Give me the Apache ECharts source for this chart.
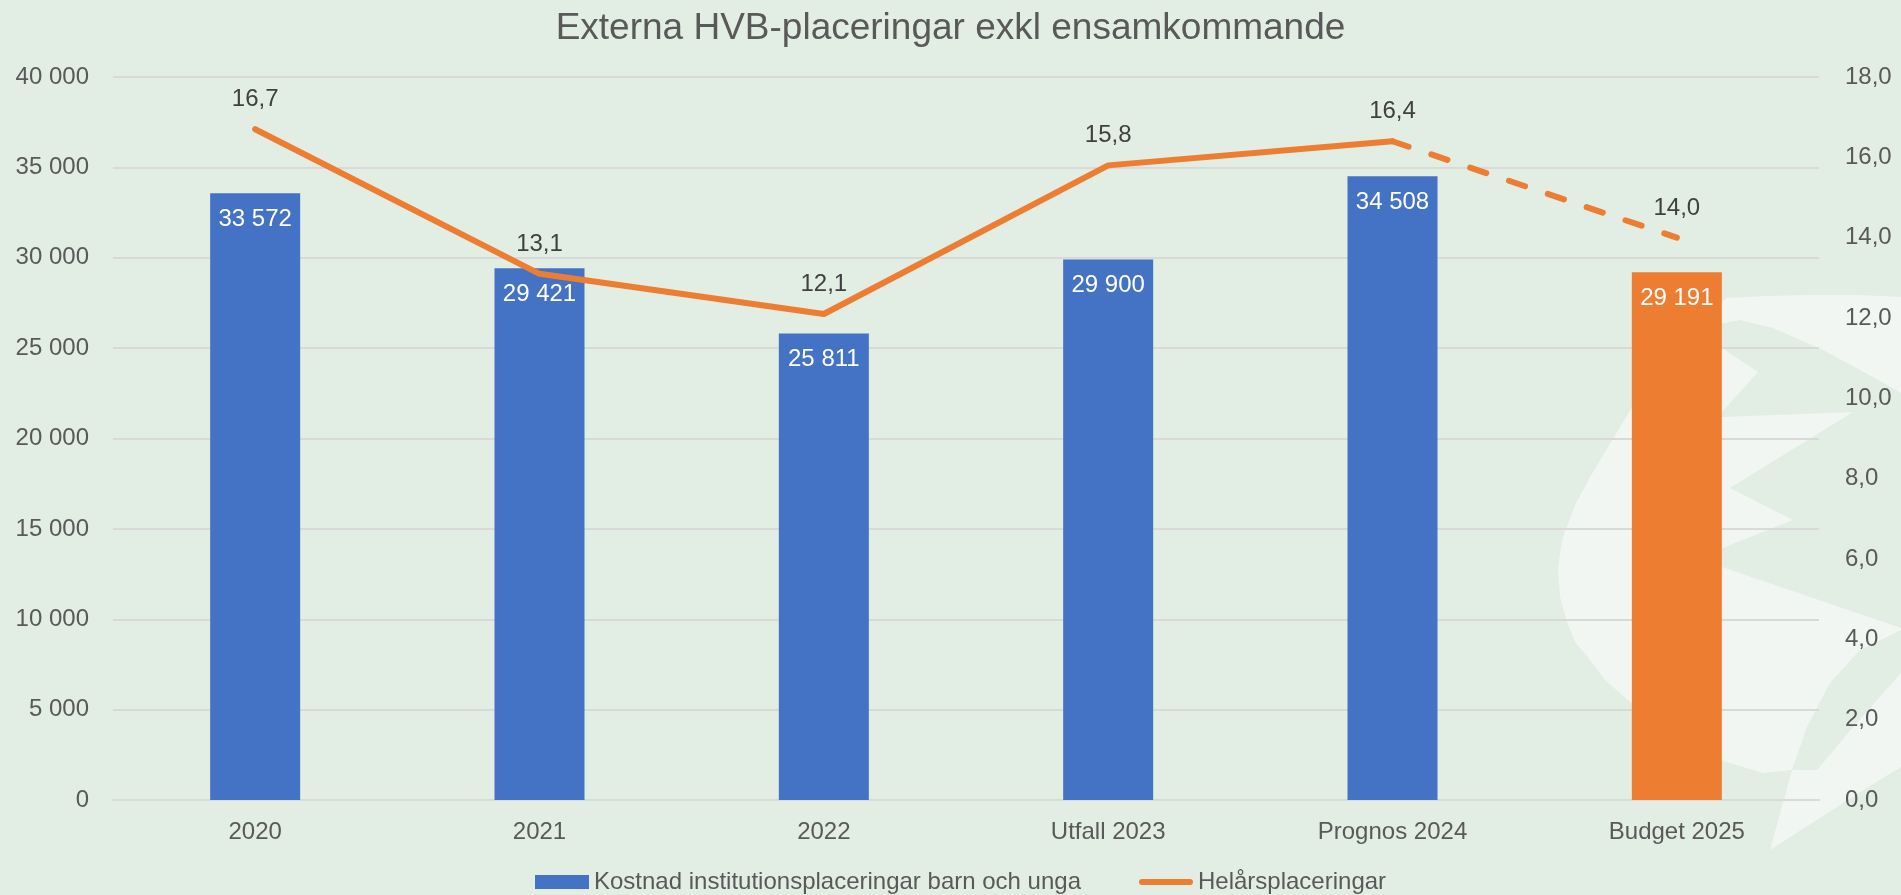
<!DOCTYPE html>
<html>
<head>
<meta charset="utf-8">
<script src="https://cdn.jsdelivr.net/npm/echarts@6/dist/echarts.min.js"></script>
<style>
html,body{margin:0;padding:0;background:#E2EDE3;}
#chart{width:1901px;height:895px;}
</style>
</head>
<body>
<div id="chart"></div>
<script>
const title = 'Externa HVB-placeringar exkl ensamkommande';
const categories = ['2020', '2021', '2022', 'Utfall 2023', 'Prognos 2024', 'Budget 2025'];
const costName = 'Kostnad institutionsplaceringar barn och unga';
const costValues = [33572, 29421, 25811, 29900, 34508, 29191];
const placementName = 'Helårsplaceringar';
const placementValues = [16.7, 13.1, 12.1, 15.8, 16.4, 14.0];
const solidUntil = 4; // last index of the solid part; dashed after

const BLUE = '#4472C4', ORANGE = '#ED7D31';
const FONT = '"Liberation Sans", Arial, sans-serif';

const fmtThousands = v => String(Math.round(v)).replace(/\B(?=(\d{3})+(?!\d))/g, ' ');
const fmtDec = v => Number(v).toFixed(1).replace('.', ',');

const barData = costValues.map((v, i) => ({
  value: v,
  itemStyle: { color: i === costValues.length - 1 ? ORANGE : BLUE }
}));
const solidLine = placementValues.map((v, i) => i <= solidUntil ? v : null);
const dashedLine = placementValues.map((v, i) => i >= solidUntil ? v : null);

// decorative watermark (background logo shape)
const lightFill = '#F1F6F2';
const bgFill = '#E2EDE3';
function poly(points, fill) {
  return { type: 'polygon', z: -10, silent: true, shape: { points: points }, style: { fill: fill } };
}
const watermark = [
  poly([[1727,298],[1767,296],[1807,295],[1860,295],[1901,297],[1901,767],[1870,786],[1837,807],[1770,850],[1781,810],[1792,770],[1763,773],[1720,760],[1675,735],[1630,702],[1605,680],[1590,660],[1575,642],[1567,622],[1560,597],[1558,570],[1560,553],[1563,537],[1575,505],[1590,477],[1605,452],[1620,427],[1650,377],[1680,337],[1703,313]], lightFill),
  poly([[1700,328],[1740,320],[1773,328],[1823,350],[1873,377],[1901,393],[1901,628],[1722,567],[1700,561],[1700,557],[1793,520],[1730,488],[1853,412],[1722,417],[1700,418],[1700,413],[1722,412],[1758,372],[1722,348],[1700,338]], bgFill),
  poly([[1901,630],[1860,650],[1830,683],[1807,727],[1792,770],[1817,770],[1853,727],[1901,673]], bgFill)
];

const chart = echarts.init(document.getElementById('chart'));
chart.setOption({
  backgroundColor: '#E2EDE3',
  animation: false,
  textStyle: { fontFamily: FONT },
  graphic: watermark,
  title: {
    text: title,
    left: 'center',
    top: 4,
    textStyle: { fontFamily: FONT, fontSize: 37, fontWeight: 'normal', color: '#595959', lineHeight: 40 }
  },
  legend: {
    top: 870,
    left: 535,
    padding: 0,
    itemWidth: 54,
    itemHeight: 14,
    itemGap: 58,
    textStyle: { fontFamily: FONT, fontSize: 24, color: '#595959' },
    data: [
      { name: costName, icon: 'rect', itemStyle: { color: BLUE } },
      { name: placementName,
        icon: 'path://M0,0L0,0M0,14L0,14M3,4L51,4A3,3 0 0 1 51,10L3,10A3,3 0 0 1 3,4Z',
        itemStyle: { color: ORANGE } }
    ]
  },
  grid: { left: 113, right: 82, top: 77, bottom: 95, containLabel: false },
  xAxis: {
    type: 'category',
    data: categories,
    axisTick: { show: false },
    axisLine: { lineStyle: { color: '#D9D9D9', width: 2 } },
    axisLabel: { fontFamily: FONT, fontSize: 24, color: '#595959', margin: 20 }
  },
  yAxis: [
    {
      type: 'value', min: 0, max: 40000, interval: 5000,
      axisLine: { show: false }, axisTick: { show: false },
      splitLine: { lineStyle: { color: '#D9D9D9', width: 2 } },
      axisLabel: { fontFamily: FONT, fontSize: 24, color: '#595959', margin: 24, formatter: fmtThousands }
    },
    {
      type: 'value', min: 0, max: 18, interval: 2,
      axisLine: { show: false }, axisTick: { show: false },
      splitLine: { show: false },
      axisLabel: { fontFamily: FONT, fontSize: 24, color: '#595959', margin: 26, formatter: v => fmtDec(v) }
    }
  ],
  series: [
    {
      name: costName,
      type: 'bar',
      yAxisIndex: 0,
      barWidth: 90,
      data: barData,
      itemStyle: { color: BLUE },
      label: {
        show: true, position: 'insideTop', distance: 14,
        fontFamily: FONT, fontSize: 24, color: '#FFFFFF',
        formatter: p => fmtThousands(p.value)
      },
      z: 2
    },
    {
      name: placementName,
      type: 'line',
      yAxisIndex: 1,
      data: solidLine,
      symbol: 'circle',
      symbolSize: 1,
      showSymbol: true,
      itemStyle: { color: 'rgba(0,0,0,0)' },
      lineStyle: { color: ORANGE, width: 6, cap: 'round', join: 'round' },
      label: {
        show: true, position: 'top', distance: 17,
        fontFamily: FONT, fontSize: 24, color: '#404040',
        formatter: p => p.value == null ? '' : fmtDec(p.value)
      },
      z: 5
    },
    {
      name: placementName + ' (budget)',
      type: 'line',
      yAxisIndex: 1,
      data: dashedLine,
      symbol: 'circle',
      symbolSize: 1,
      showSymbol: true,
      itemStyle: { color: 'rgba(0,0,0,0)' },
      lineStyle: { color: ORANGE, width: 6, type: [17, 24], cap: 'round', join: 'round' },
      label: {
        show: true, position: 'top', distance: 17,
        fontFamily: FONT, fontSize: 24, color: '#404040',
        formatter: p => (p.dataIndex > solidUntil && p.value != null) ? fmtDec(p.value) : ''
      },
      z: 5
    }
  ]
});
</script>
</body>
</html>
